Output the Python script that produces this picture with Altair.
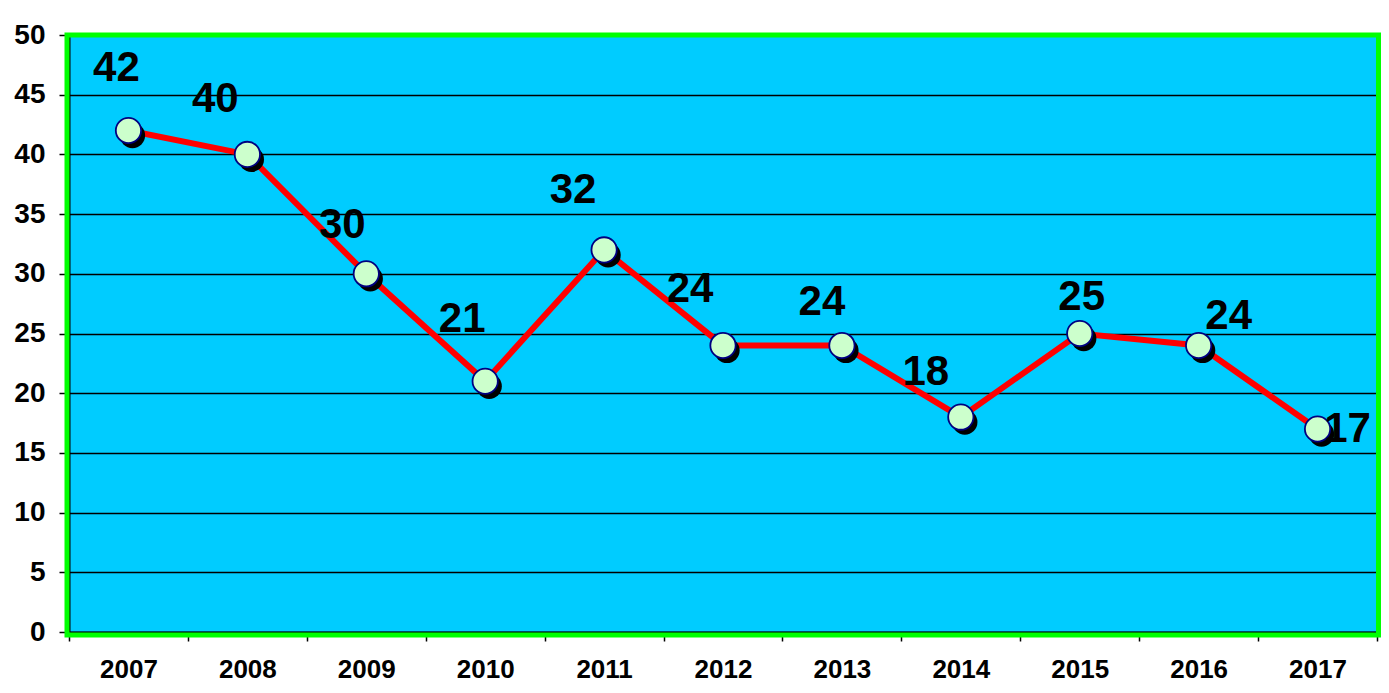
import altair as alt
import pandas as pd

years = ["2007", "2008", "2009", "2010", "2011", "2012", "2013", "2014", "2015", "2016", "2017"]
values = [42, 40, 30, 21, 32, 24, 24, 18, 25, 24, 17]

# label placement offsets (pixels) relative to each point
label_dx = [-12, -32, -24, -23, -31, -33, -20, -35, 2, 30, 30]
label_dy = [-63, -55, -49, -62, -60, -56, -43, -45, -37, -29, 0]

df = pd.DataFrame({"year": years, "value": values})

FONT = "Liberation Sans"
W, H = 1308, 597

x_enc = alt.X("year:N", sort=years, title=None,
              scale=alt.Scale(paddingInner=0, paddingOuter=0),
              axis=alt.Axis(labelAngle=0, tickBand="extent", tickSize=9, tickColor="black",
                            tickWidth=1.5, domainColor="black", domainWidth=2,
                            labelFontSize=26, labelFontWeight="bold", labelColor="black",
                            labelFont=FONT, labelPadding=15, grid=False))
y_enc = alt.Y("value:Q", title=None,
              scale=alt.Scale(domain=[0, 50], nice=False),
              axis=alt.Axis(values=list(range(0, 51, 5)), tickSize=10, tickColor="black",
                            tickWidth=1.5, domainColor="black", domainWidth=2,
                            labelFontSize=28, labelFontWeight="bold", labelColor="black",
                            labelFont=FONT, labelPadding=14, grid=True, gridColor="black",
                            gridWidth=1.5, gridOpacity=1))

base = alt.Chart(df)

line = base.mark_line(color="#FF0000", strokeWidth=6).encode(x=x_enc, y=y_enc)
shadow = base.mark_circle(size=640, color="black", opacity=1, xOffset=4, yOffset=5).encode(x=x_enc, y=y_enc)
points = base.mark_circle(size=640, fill="#CCFFCC", stroke="#000080", strokeWidth=1.8,
                          opacity=1, fillOpacity=1).encode(x=x_enc, y=y_enc)

layers = [line, shadow, points]
for yr, dx, dy in zip(years, label_dx, label_dy):
    layers.append(
        base.transform_filter(alt.datum.year == yr)
        .mark_text(fontSize=42, fontWeight="bold", font=FONT, color="black",
                   align="center", baseline="middle", dx=dx, dy=dy)
        .encode(x=x_enc, y=y_enc, text="value:Q")
    )

border = base.transform_filter(alt.datum.year == years[0]).mark_rect(
    fill="transparent", stroke="#00FF00", strokeWidth=5
).encode(x=alt.value(-2), x2=alt.value(W + 1.5), y=alt.value(0), y2=alt.value(H + 3))
layers.append(border)

chart = alt.layer(*layers).properties(
    width=W, height=H,
    autosize=alt.AutoSizeParams(type="none"),
    padding={"left": 61, "top": 27, "right": 4, "bottom": 53},
    background="white",
).configure_view(
    fill="#00CCFF", stroke="transparent", strokeWidth=0
)

chart.save("out.html", embed_options={"renderer": "svg", "actions": False})
